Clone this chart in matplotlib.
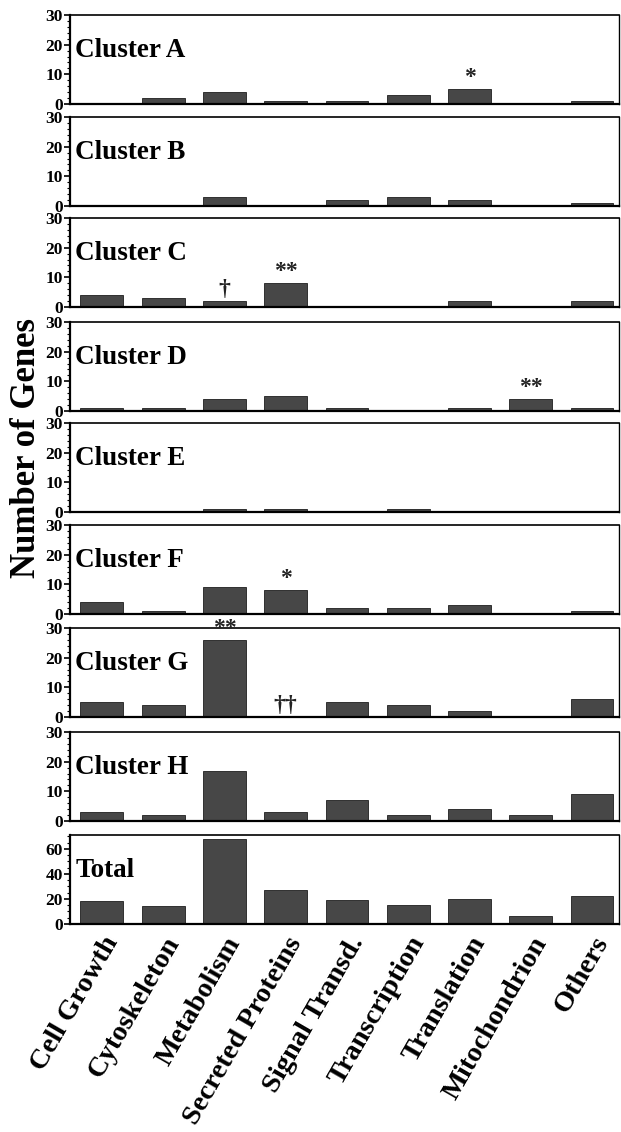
import numpy as np
import matplotlib
matplotlib.use("Agg")
import matplotlib.pyplot as plt
from matplotlib.ticker import MultipleLocator

plt.rcParams['font.family'] = ['Liberation Serif', 'DejaVu Serif']
plt.rcParams['font.weight'] = 'bold'

# categories (x axis)
categories = ["Cell Growth", "Cytoskeleton", "Metabolism", "Secreted Proteins",
              "Signal Transd.", "Transcription", "Translation", "Mitochondrion", "Others"]

# gene counts per cluster
cluster_a = [0, 2, 4, 1, 1, 3, 5, 0, 1]
cluster_b = [0, 0, 3, 0, 2, 3, 2, 0, 1]
cluster_c = [4, 3, 2, 8, 0, 0, 2, 0, 2]
cluster_d = [1, 1, 4, 5, 1, 0, 1, 4, 1]
cluster_e = [0, 0, 1, 1, 0, 1, 0, 0, 0]
cluster_f = [4, 1, 9, 8, 2, 2, 3, 0, 1]
cluster_g = [5, 4, 26, 0, 5, 4, 2, 0, 6]
cluster_h = [3, 2, 17, 3, 7, 2, 4, 2, 9]
total = [18, 14, 68, 27, 19, 15, 20, 6, 22]

panel_names = ["Cluster A", "Cluster B", "Cluster C", "Cluster D", "Cluster E",
               "Cluster F", "Cluster G", "Cluster H", "Total"]
panel_values = [cluster_a, cluster_b, cluster_c, cluster_d, cluster_e,
                cluster_f, cluster_g, cluster_h, total]

# significance marks: (panel index, category index, symbol)
marks = [(0, 6, "*"), (2, 2, "\u2020"), (2, 3, "**"), (3, 7, "**"),
         (5, 3, "*"), (6, 2, "**"), (6, 3, "\u2020\u2020")]

W, H = 621, 1132
fig = plt.figure(figsize=(W / 100, H / 100), dpi=100)

left = 70 / W
width = 549 / W
ax_h = 89
tops = [15, 117, 218, 322, 423, 525, 628, 732, 835]

x = np.arange(len(categories))
axes = []
for i, (name, vals) in enumerate(zip(panel_names, panel_values)):
    ax = fig.add_axes([left, 1 - (tops[i] + ax_h) / H, width, ax_h / H])
    ax.bar(x, vals, width=0.7, color="#474747", edgecolor="#1e1e1e", linewidth=0.6)
    ax.set_xlim(-0.52, 8.44)
    if name == "Total":
        ax.set_ylim(0, 71)
        ax.yaxis.set_major_locator(MultipleLocator(20))
        ax.yaxis.set_minor_locator(MultipleLocator(5))
    else:
        ax.set_ylim(0, 30)
        ax.yaxis.set_major_locator(MultipleLocator(10))
        ax.yaxis.set_minor_locator(MultipleLocator(2))
    ax.tick_params(axis='y', which='major', length=4, width=1.2, labelsize=12.5, pad=1)
    ax.tick_params(axis='y', which='minor', length=2, width=0.8)
    ax.tick_params(axis='x', length=0)
    for lab in ax.get_yticklabels():
        lab.set_fontweight('bold')
    ax.spines['left'].set_linewidth(1.6)
    ax.spines['bottom'].set_linewidth(1.6)
    ax.spines['top'].set_linewidth(1.2)
    ax.spines['right'].set_linewidth(1.0)
    ax.text(0.01, 0.6, name, transform=ax.transAxes, fontsize=19.5,
            fontweight='bold', ha='left', va='center')
    if name == "Total":
        ax.set_xticks(x)
        ax.set_xticklabels(categories, rotation=60, ha='right',
                           rotation_mode='anchor', fontsize=20.5, fontweight='bold')
        ax.tick_params(axis='x', pad=6)
    else:
        ax.set_xticks([])
    axes.append(ax)

for p, c, sym in marks:
    ax = axes[p]
    v = panel_values[p][c]
    ax.text(c, v + 0.4, sym, ha='center', va='bottom', fontsize=17,
            fontweight='bold', color="#222222")

fig.text(0.043, 0.604, "Number of Genes", rotation=90, ha='center', va='center',
         fontsize=25, fontweight='bold')

fig.savefig("out.png", dpi=100)
